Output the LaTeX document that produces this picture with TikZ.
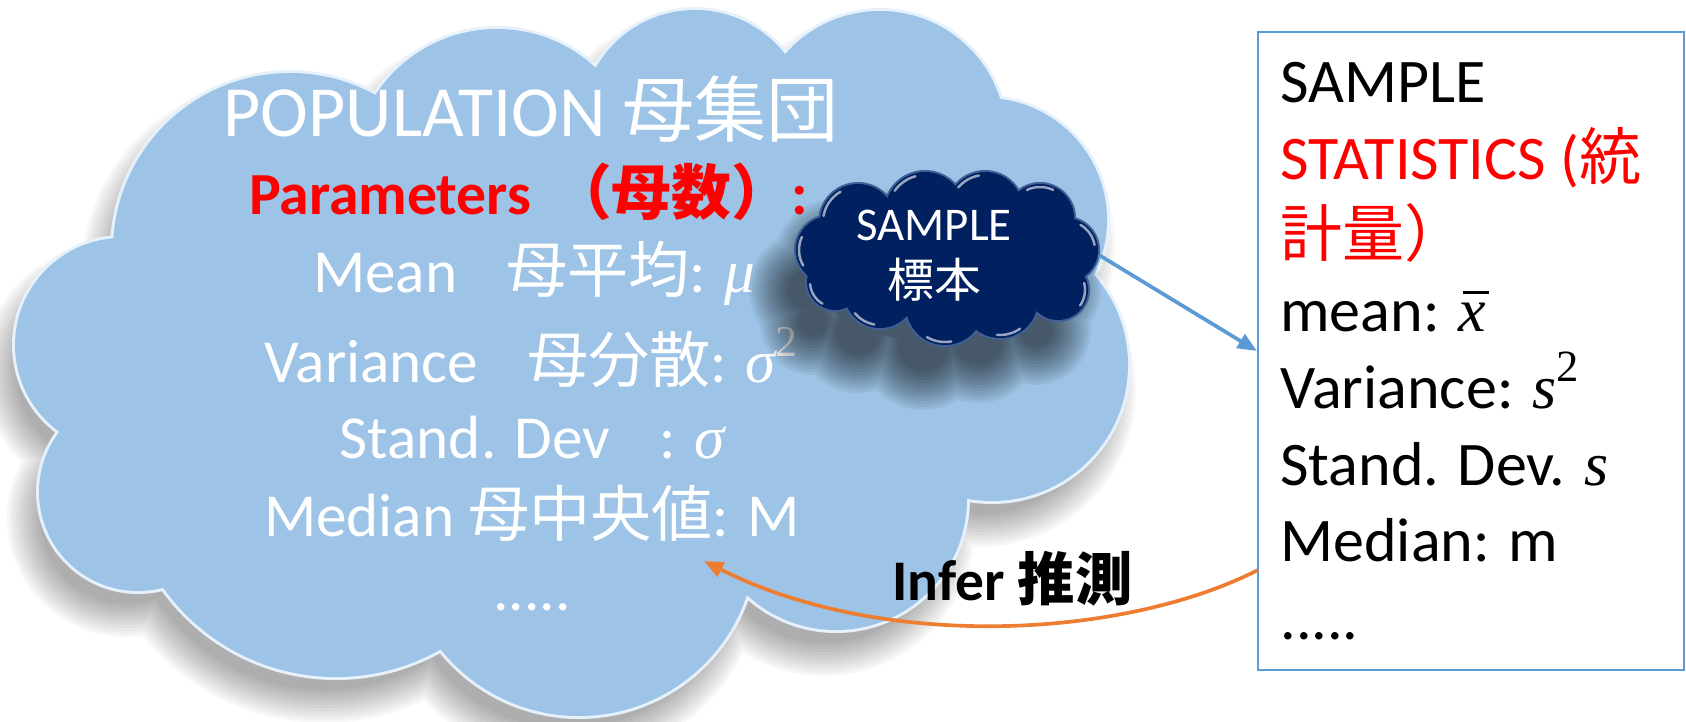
\documentclass[tikz,border=0pt]{standalone}
\usepackage{fontspec}
\setmainfont{Carlito}
\newfontfamily\jp{Noto Sans CJK JP}
\newfontfamily\mfont{Liberation Serif}
\newcommand\mv[1]{{\mfont\itshape #1}}
\newcommand\supr[1]{\raisebox{0.42em}{\scalebox{0.72}{\mfont #1}}}
\newcommand\xbar{\leavevmode\rlap{\hspace{0.08em}\raisebox{0.6em}{\rule{0.42em}{0.045em}}}\mv{x}}
\usetikzlibrary{arrows.meta}
\definecolor{cloudblue}{HTML}{9DC3E6}
\definecolor{cloudrim}{HTML}{E6F1FB}
\definecolor{navy}{HTML}{002060}
\definecolor{navyrim}{HTML}{3F5F95}
\definecolor{accblue}{HTML}{5B9BD5}
\definecolor{accorange}{HTML}{ED7D31}
\definecolor{pred}{HTML}{FF0000}
\def\bigcloud{122/345/110, 290/250/180, 497/174/148, 695/124/117, 880/137/129, 985/220/125, 992/365/139, 836/499/134, 579/539/180, 336/465/215, 138/492/102}
\def\smallcloud{858/222/40, 925/212/42, 985/210/40, 1040/218/36, 1066/250/34, 1058/290/32, 1000/300/40, 945/306/41, 880/292/38, 835/282/30, 830/250/36}
% highlight arcs: cx/cy/r/start/end
\def\gloss{858/222/40/190/240, 830/250/36/150/205, 835/282/30/120/175, 925/212/42/215/255, 985/210/40/220/260, 1040/218/36/245/295, 1066/250/34/300/350, 1058/290/32/345/395, 1000/300/40/55/95, 945/306/41/80/120, 880/292/38/100/140}
\tikzset{
  cloudtxt/.style={text=white, anchor=base, inner sep=0pt},
  boxtxt/.style={anchor=base west, inner sep=0pt, font=\fontsize{35.3pt}{42pt}\selectfont},
  connector/.style={line width=2.1pt, -{Triangle[length=11pt,width=9pt]}}
}
\begin{document}
\begin{tikzpicture}[x=0.02cm,y=-0.02cm]
\useasboundingbox (0,0) rectangle (1686,721);
% shadow of the population cloud
\foreach \k in {1,...,12}{
  \fill[black, opacity=0.03, shift={(-12,26)}]
    \foreach \cx/\cy/\r in \bigcloud { (\cx,\cy) circle[radius={\r+20-3*\k}] }
    (580,370) ellipse[x radius=440, y radius=225];
}
% population cloud
\fill[cloudrim] \foreach \cx/\cy/\r in \bigcloud { (\cx,\cy) circle[radius=\r] };
\fill[cloudblue] \foreach \cx/\cy/\r in \bigcloud { (\cx,\cy) circle[radius={\r-3}] }
  (580,370) ellipse[x radius=440, y radius=225];
% population text
\node[cloudtxt, font=\fontsize{41pt}{48pt}\selectfont] (poptitle) at (531,136) {POPULATION {\jp 母集団}};
\node[cloudtxt, text=pred, anchor=base east, font=\bfseries\fontsize{34pt}{42pt}\selectfont] (params) at (808,214) {Parameters\hspace{0.35em}{\jp （母数）}:};
\node[cloudtxt, font=\fontsize{34.8pt}{42pt}\selectfont] (pmean) at (534,292) {Mean\hspace{0.8em}{\jp 母平均}: \mv{μ}};
\node[cloudtxt, font=\fontsize{34.8pt}{42pt}\selectfont] (pvar) at (531,382) {Variance\hspace{0.8em}{\jp 母分散}: \mv{σ}\supr{2}};
\node[cloudtxt, font=\fontsize{34.8pt}{42pt}\selectfont] (psd) at (532,458) {Stand. Dev\hspace{0.8em}: \mv{σ}};
\node[cloudtxt, font=\fontsize{34.8pt}{42pt}\selectfont] (pmed) at (532,536) {Median {\jp 母中央値}: M};
\node[cloudtxt, font=\fontsize{34.8pt}{42pt}\selectfont] (pdots) at (532,610) {.....};
% shadow of the sample cloud
\foreach \k in {1,...,14}{
  \fill[black, opacity=0.05, shift={(-22,40)}]
    \foreach \cx/\cy/\r in \smallcloud { (\cx,\cy) circle[radius={\r+26-3*\k}] }
    (947,258) ellipse[x radius=95, y radius=42];
}
% sample cloud
\fill[navyrim] \foreach \cx/\cy/\r in \smallcloud { (\cx,\cy) circle[radius=\r] };
\fill[navy] \foreach \cx/\cy/\r in \smallcloud { (\cx,\cy) circle[radius={\r-2}] }
  (947,258) ellipse[x radius=105, y radius=50];
\foreach \cx/\cy/\r/\a/\b in \gloss {
  \draw[white, opacity=0.6, line width=1.4pt, line cap=round]
    (\cx,\cy) ++(\a:{\r-5}) arc[start angle=\a, end angle=\b, radius={\r-5}];
}
\node[cloudtxt, font=\fontsize{26.7pt}{32pt}\selectfont] (sampletxt) at (934,240) {SAMPLE};
\node[cloudtxt, font=\fontsize{26.7pt}{32pt}\selectfont] (samplejp) at (934,297) {\jp 標本};
\coordinate (sampleedge) at (1099,255);
% statistics box
\node[draw=accblue, line width=1.2pt, fill=white, minimum width=8.52cm, minimum height=12.76cm, inner sep=0pt] (statbox) at (1471,351) {};
\node[boxtxt] (s1) at (1280,102) {SAMPLE};
\node[boxtxt, text=pred] (s2) at (1280,179) {STATISTICS ({\jp 統}};
\node[boxtxt, text=pred] (s3) at (1280,256) {\jp 計量）};
\node[boxtxt] (s4) at (1280,331) {mean: \xbar};
\node[boxtxt] (s5) at (1280,408) {Variance: \mv{s}\supr{2}};
\node[boxtxt] (s6) at (1280,485) {Stand. Dev. \mv{s}};
\node[boxtxt] (s7) at (1280,561) {Median: m};
\node[boxtxt] (s8) at (1280,639) {.....};
% connectors
\draw[accblue, connector] (sampleedge) -- (statbox.west);
\coordinate (inferstart) at (1258,570);
\coordinate (inferend) at (704,561);
\draw[accorange, connector] (inferstart) .. controls (1120,640) and (880,650) .. (inferend);
\node[anchor=base west, inner sep=0pt, font=\bfseries\fontsize{32.7pt}{38pt}\selectfont] (infer) at (892,600) {Infer {\jp 推測}};
\end{tikzpicture}
\end{document}
